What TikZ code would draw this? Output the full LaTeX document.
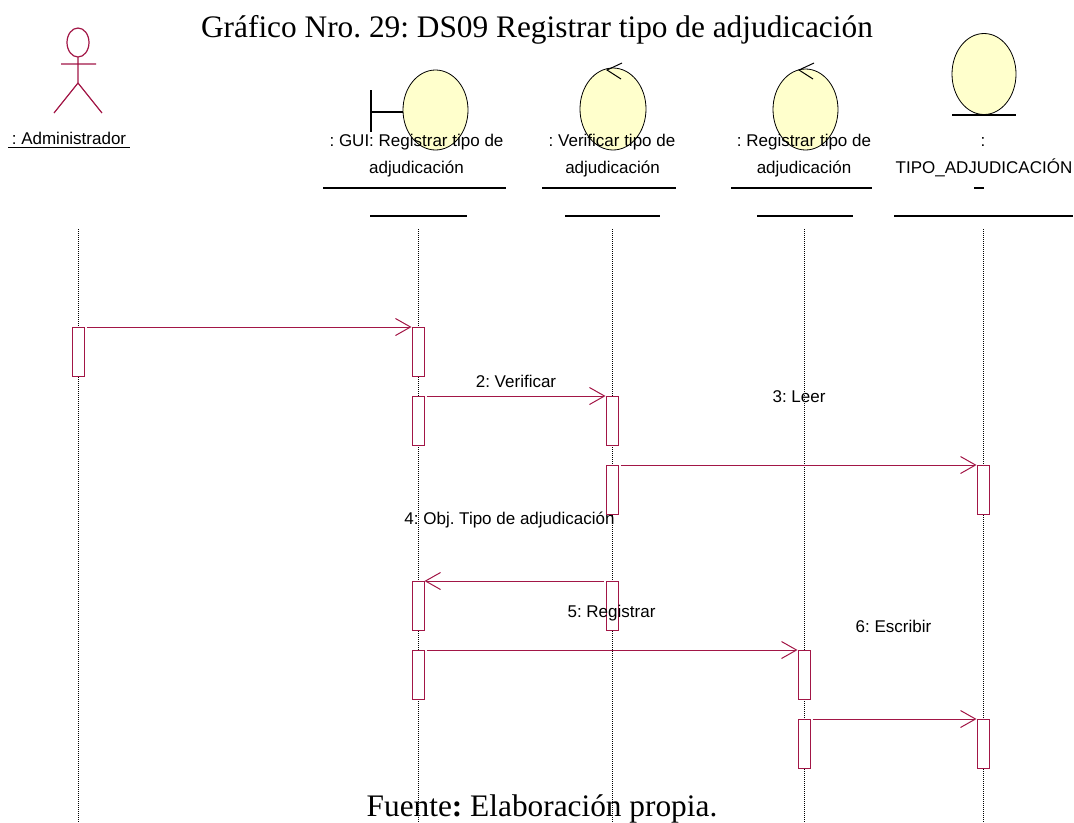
\documentclass[tikz,border=0pt]{standalone}
\usepackage{fontspec}
\setmainfont{Liberation Serif}
\setsansfont{Liberation Sans}
\usepackage{xcolor}
\usetikzlibrary{arrows.meta}
\definecolor{umlred}{RGB}{162,22,70}
\definecolor{roseyellow}{RGB}{255,255,204}
\frenchspacing

\begin{document}
\begin{tikzpicture}[x=0.75pt,y=-0.75pt,
    lbl/.style={font=\sffamily\fontsize{12.75}{15}\selectfont,inner sep=0pt,anchor=base},
    ttl/.style={font=\rmfamily\fontsize{23.5}{28}\selectfont,inner sep=0pt,anchor=base},
    lifeline/.style={line width=0.75pt,dash pattern=on 0.75pt off 0.75pt},
    actbox/.style={draw=umlred,fill=white,line width=0.75pt,minimum width=9pt,
      minimum height=36.75pt,inner sep=0pt,anchor=north},
    msg/.style={umlred,line width=0.75pt,shorten <=1.5pt,
      -{Straight Barb[length=11.25pt,width=12.75pt]}},
    icon/.style={draw=black,fill=roseyellow,line width=0.6pt},
    hline/.style={line width=0.9pt}]
    \useasboundingbox (0,0) rectangle (1074,822);
    %
    \node[ttl] (title) at (537,37) {Gráfico Nro. 29: DS09 Registrar tipo de adjudicación};
    %
    % actor
    \draw[umlred,line width=0.9pt] (78,42.5) ellipse [x radius=11, y radius=14.5];
    \draw[umlred,line width=0.9pt] (78,57) -- (78,83)
      (61,64) -- (96,64)
      (54,113) -- (78,83) -- (102,113);
    \node[lbl] (admlbl) at (69,144) {: Administrador};
    \draw[hline] (8,147.5) -- (130,147.5);
    %
    % boundary
    \draw[line width=0.9pt] (371,90) -- (371,132) (371,112) -- (403,112);
    \draw[icon] (435.5,110) ellipse [x radius=32.5, y radius=40];
    \node[lbl] (guilbl) at (416.5,146) {: GUI: Registrar tipo de};
    \node[lbl] (guilblb) at (416.5,173) {adjudicación};
    \draw[hline] (323,188) -- (506,188) (370,216) -- (467,216);
    %
    % control
    \draw[icon] (613,109) ellipse [x radius=33, y radius=41];
    \draw[line width=0.75pt] (622,63) -- (607,70) -- (621,79);
    \node[lbl] (verlbl) at (612,146) {: Verificar tipo de};
    \node[lbl] (verlblb) at (612.5,173) {adjudicación};
    \draw[hline] (542,188) -- (676,188) (565,216) -- (660,216);
    %
    % control
    \draw[icon] (805.5,109.5) ellipse [x radius=32.5, y radius=40.5];
    \draw[line width=0.75pt] (814,63) -- (799,70) -- (813,79);
    \node[lbl] (reglbl) at (804,146) {: Registrar tipo de};
    \node[lbl] (reglblb) at (804,173) {adjudicación};
    \draw[hline] (731,188) -- (872,188) (757,216) -- (853,216);
    %
    % entity
    \draw[icon] (984,74) ellipse [x radius=32, y radius=40.5];
    \draw[line width=0.9pt] (952,115) -- (1016,115);
    \node[lbl] (tiplbl) at (983,146) {:};
    \node[lbl] (tiplblb) at (984,173) {TIPO\_ADJUDICACIÓN};
    \draw[line width=1.5pt] (974,188) -- (984,188);
    \draw[hline] (894,216) -- (1073,216);
    %
    % lifelines
    \coordinate (admtop) at (78,229);   \coordinate (admend) at (78,822);
    \coordinate (guitop) at (418,229);  \coordinate (guiend) at (418,822);
    \coordinate (vertop) at (612,229);  \coordinate (verend) at (612,822);
    \coordinate (regtop) at (804,229);  \coordinate (regend) at (804,822);
    \coordinate (tiptop) at (983,229);  \coordinate (tipend) at (983,822);
    \draw[lifeline] (admtop) -- (admend);
    \draw[lifeline] (guitop) -- (guiend);
    \draw[lifeline] (vertop) -- (verend);
    \draw[lifeline] (regtop) -- (regend);
    \draw[lifeline] (tiptop) -- (tipend);
    %
    % activations
    \node[actbox] (adm1) at (78,327) {};
    \node[actbox] (gui1) at (418,327) {};
    \node[actbox] (gui2) at (418,396) {};
    \node[actbox] (gui3) at (418,581) {};
    \node[actbox] (gui4) at (418,650) {};
    \node[actbox] (ver1) at (612,396) {};
    \node[actbox] (ver2) at (612,465) {};
    \node[actbox] (ver3) at (612,581) {};
    \node[actbox] (reg1) at (804,650) {};
    \node[actbox] (reg2) at (804,719) {};
    \node[actbox] (tip1) at (983,465) {};
    \node[actbox] (tip2) at (983,719) {};
    %
    % messages
    \draw[msg] (adm1.north east) -- (gui1.north west);
    \draw[msg] (gui2.north east) -- (ver1.north west);
    \draw[msg] (ver2.north east) -- (tip1.north west);
    \draw[msg] (ver3.north west) -- (gui3.north east);
    \draw[msg] (gui4.north east) -- (reg1.north west);
    \draw[msg] (reg2.north east) -- (tip2.north west);
    \node[lbl] (m2) at (516,387) {2: Verificar};
    \node[lbl] (m3) at (799,402) {3: Leer};
    \node[lbl] (m4) at (509.5,524) {4: Obj. Tipo de adjudicación};
    \node[lbl] (m5) at (611.5,617) {5: Registrar};
    \node[lbl] (m6) at (893.5,632) {6: Escribir};
    %
    \node[ttl] (source) at (542,816) {Fuente\textbf{:} Elaboración propia.};
  \end{tikzpicture}
\end{document}
